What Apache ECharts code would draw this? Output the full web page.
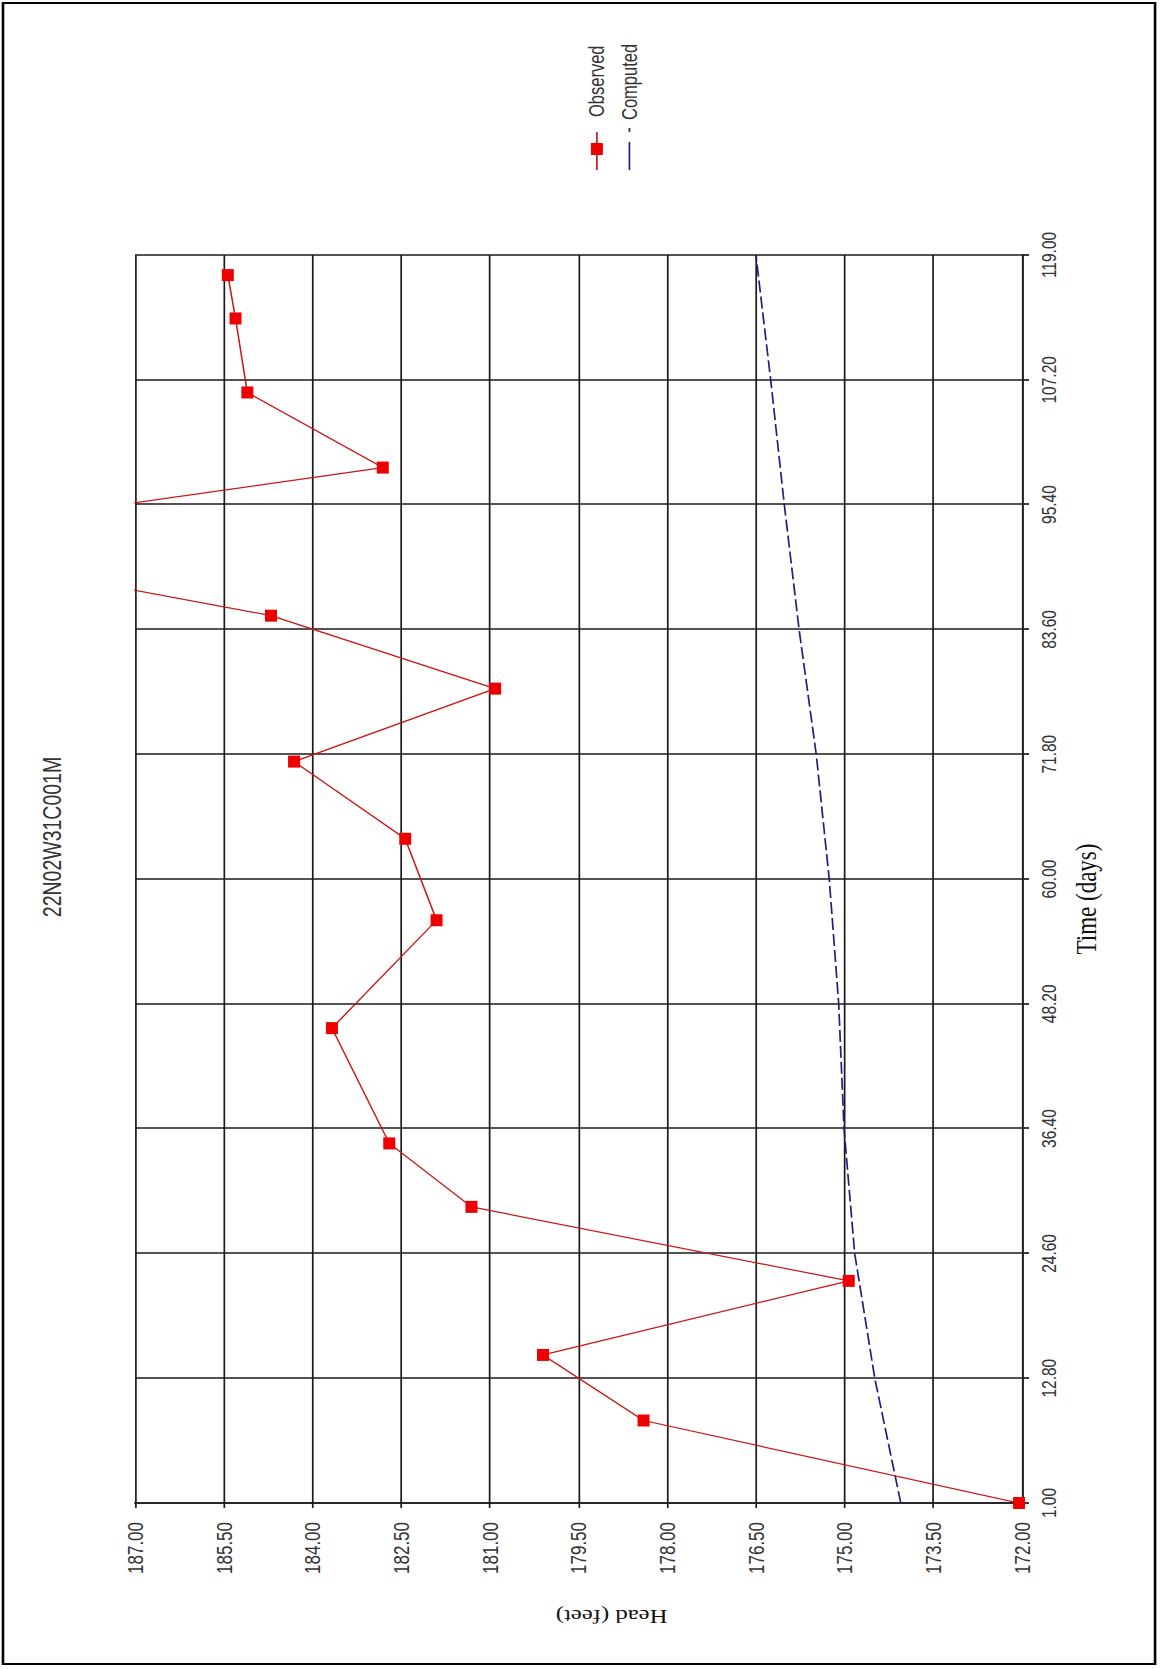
<!DOCTYPE html>
<html>
<head>
<meta charset="utf-8">
<title>22N02W31C001M</title>
<script src="https://cdn.jsdelivr.net/npm/echarts@6/dist/echarts.min.js"></script>
<style>
  html, body { margin: 0; padding: 0; background: #ffffff; overflow: hidden; width: 1160px; height: 1669px; }
  /* The chart is laid out landscape and turned a quarter turn counter-clockwise onto the portrait page. */
  #chart {
    position: absolute; left: 0; top: 0;
    width: 1669px; height: 892px;
    transform-origin: 0 0;
    transform: translateY(1669px) rotate(-90deg) scale(1, 1.30045);
  }
</style>
</head>
<body>
<div id="chart"></div>
<script>
// Well 22N02W31C001M: observed vs computed head over time
const titleText = '22N02W31C001M';
const seriesNames = ['Observed', 'Computed'];

const observedTime = [1, 8.8, 15, 22, 29, 35, 45.9, 56.1, 63.8, 71.1, 78, 84.9, 92, 98.9, 106, 113, 117.1];
const observedHead = [172.05, 178.4, 180.1, 174.93, 181.31, 182.7, 183.67, 181.9, 182.43, 184.31, 180.91, 184.7, 191.5, 182.81, 185.1, 185.3, 185.43];

const computedTime = [1, 12.8, 24.6, 36.4, 48.2, 60, 71.8, 83.6, 95.4, 107.2, 119];
const computedHead = [174.05, 174.49, 174.83, 175.01, 175.1, 175.26, 175.48, 175.77, 176.02, 176.25, 176.5];

const timeAxisRange = { min: 1, max: 119, interval: 11.8 };
const headAxisRange = { min: 172, max: 187, interval: 1.5 };

// vertical stretch applied by the CSS transform; horizontal strokes are thinned to compensate
const K = 1.30045;
const GRID_COLOR = '#1a1a1a';
const GRID_W = 1.7;
const SANS = "'Liberation Sans', Arial, sans-serif";
const SERIF = "'Liberation Serif', 'Times New Roman', serif";

const zip = (xs, ys) => xs.map((x, i) => [x, ys[i]]);

const chart = echarts.init(document.getElementById('chart'), null, { renderer: 'svg' });

const legendY1 = 459, legendY2 = 484;

chart.setOption({
  animation: false,
  backgroundColor: '#ffffff',
  grid: { left: 166, right: 255, top: 103.8, bottom: 106.1, containLabel: false },
  xAxis: {
    type: 'value',
    min: timeAxisRange.min, max: timeAxisRange.max, interval: timeAxisRange.interval,
    axisLine: { show: true, lineStyle: { color: GRID_COLOR, width: GRID_W / K } },
    axisTick: { show: true, inside: false, length: 7 / K, lineStyle: { color: GRID_COLOR, width: GRID_W } },
    splitLine: { show: true, showMinLine: true, showMaxLine: true, lineStyle: { color: GRID_COLOR, width: GRID_W } },
    axisLabel: {
      margin: 13, color: '#333', fontFamily: SANS, fontSize: 15.5,
      showMinLabel: true, showMaxLabel: true,
      formatter: v => v.toFixed(2)
    }
  },
  yAxis: {
    type: 'value',
    min: headAxisRange.min, max: headAxisRange.max, interval: headAxisRange.interval,
    axisLine: { show: true, lineStyle: { color: GRID_COLOR, width: GRID_W } },
    axisTick: { show: true, inside: false, length: 5, lineStyle: { color: GRID_COLOR, width: GRID_W / K } },
    splitLine: { show: true, showMinLine: true, showMaxLine: true, lineStyle: { color: GRID_COLOR, width: GRID_W / K } },
    axisLabel: {
      margin: 19, color: '#333', fontFamily: SANS, fontSize: 17,
      showMinLabel: true, showMaxLabel: true,
      formatter: v => v.toFixed(2)
    }
  },
  series: [
    {
      name: seriesNames[0],
      type: 'line',
      data: zip(observedTime, observedHead),
      clip: true,
      symbol: 'rect',
      symbolSize: [12, 12 / K],
      showAllSymbol: true,
      itemStyle: { color: '#ee0000' },
      lineStyle: { color: '#c81818', width: 1.2 },
      z: 4
    },
    {
      name: seriesNames[1],
      type: 'line',
      data: zip(computedTime, computedHead),
      clip: true,
      symbol: 'none',
      lineStyle: { color: '#1e1e84', width: 1.3, type: [12, 4] },
      z: 3
    }
  ],
  graphic: [
    // page frame
    { type: 'rect', silent: true, shape: { x: 5, y: 2.3, width: 1661, height: 885.9 },
      style: { fill: 'none', stroke: '#000', lineWidth: 2 } },
    // title
    { type: 'text', silent: true, x: 832, y: 40.8,
      style: { text: titleText, fill: '#333', font: '19.5px ' + SANS, align: 'center', verticalAlign: 'middle' } },
    // axis names
    { type: 'text', silent: true, x: 770, y: 835,
      style: { text: 'Time (days)', fill: '#111', font: '23px ' + SERIF, align: 'center', verticalAlign: 'middle' } },
    { type: 'text', silent: true, x: 53, y: 470.3, rotation: Math.PI / 2,
      style: { text: 'Head (feet)', fill: '#111', font: '19px ' + SERIF, align: 'center', verticalAlign: 'middle' } },
    // legend: observed
    { type: 'line', silent: true, shape: { x1: 1499, y1: legendY1, x2: 1537, y2: legendY1 },
      style: { stroke: '#c81818', lineWidth: 1.3 } },
    { type: 'rect', silent: true, shape: { x: 1514, y: legendY1 - 6 / K, width: 12, height: 12 / K },
      style: { fill: '#ee0000' } },
    { type: 'text', silent: true, x: 1552, y: legendY1,
      style: { text: seriesNames[0], fill: '#333', font: '16.5px ' + SANS, align: 'left', verticalAlign: 'middle' } },
    // legend: computed
    { type: 'line', silent: true, shape: { x1: 1499, y1: legendY2, x2: 1541, y2: legendY2 },
      style: { stroke: '#1e1e84', lineWidth: 1.3, lineDash: [28, 10] } },
    { type: 'text', silent: true, x: 1549, y: legendY2,
      style: { text: seriesNames[1], fill: '#333', font: '16.5px ' + SANS, align: 'left', verticalAlign: 'middle' } }
  ]
});
</script>
</body>
</html>
